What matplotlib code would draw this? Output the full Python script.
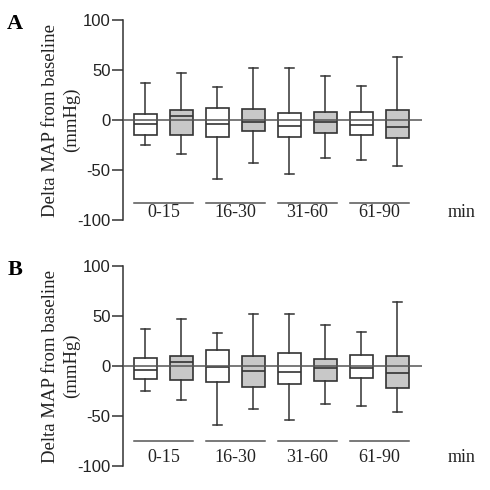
import numpy as np
import matplotlib.pyplot as plt

groups = ["0-15", "16-30", "31-60", "61-90"]
fills = ["white", "#c8c8c8"] * 4

# panel A (five-number summaries, mmHg)
a_whislo = [-25, -34, -59, -43, -54, -38, -40, -46]
a_q1 = [-14.7, -14.7, -17, -11.3, -16.7, -13.3, -15.3, -18.3]
a_med = [-4.3, 4, -4, -1.7, -6.3, -1.7, -5, -7]
a_q3 = [5.7, 10, 12.3, 11.3, 7.3, 8.3, 8.3, 10]
a_whishi = [36.7, 47, 33, 51.7, 51.7, 43.7, 34, 63.3]

# panel B
b_whislo = [-25, -34, -59, -43, -54, -38, -40, -45.7]
b_q1 = [-13, -14.3, -16.3, -21.3, -18.3, -15.3, -12.3, -22.3]
b_med = [-3.7, 4, -1, -5, -6, -2, -2, -7]
b_q3 = [8, 10.3, 16.3, 10.3, 13.3, 7, 11.3, 10.3]
b_whishi = [37, 47, 33, 51.7, 51.7, 41, 34, 64]

serif = ["Liberation Serif", "DejaVu Serif"]
sans = ["Liberation Sans", "DejaVu Sans"]


def draw_panel(ax, whislo, q1, med, q3, whishi, letter, line_y):
    stats = []
    for i in range(len(med)):
        stats.append(dict(whislo=whislo[i], q1=q1[i], med=med[i],
                          q3=q3[i], whishi=whishi[i], fliers=[]))
    pos = np.arange(1, len(med) + 1)
    bp = ax.bxp(stats, positions=pos, widths=0.64, capwidths=0.27,
                showfliers=False, patch_artist=True,
                boxprops=dict(edgecolor="#333333", linewidth=1.2),
                medianprops=dict(color="#333333", linewidth=1.2),
                whiskerprops=dict(color="#333333", linewidth=1.1),
                capprops=dict(color="#333333", linewidth=1.1))
    for patch, c in zip(bp["boxes"], fills):
        patch.set_facecolor(c)

    ax.axhline(0, color="#555555", linewidth=1.1, zorder=5)

    for g, name in enumerate(groups):
        c = 1.5 + 2 * g
        ax.plot([c - 0.81, c + 0.81], [line_y, line_y], color="#555555",
                linewidth=1.1, clip_on=False)
        ax.text(c, -92, name, ha="center", va="center", fontsize=13,
                family=serif, color="#222222")
    ax.text(9.79, -92, "min", ha="center", va="center", fontsize=13,
            family=serif, color="#222222", clip_on=False)

    ax.set_xlim(0.375, 8.68)
    ax.set_ylim(-100, 100)
    ax.set_yticks([-100, -50, 0, 50, 100])
    ax.set_yticklabels(["-100", "-50", "0", "50", "100"], family=sans,
                       fontsize=12, color="#222222")
    ax.tick_params(axis="y", direction="out", length=8, width=1.1,
                   color="#333333", pad=1)
    ax.set_xticks([])
    for s in ["top", "right", "bottom"]:
        ax.spines[s].set_visible(False)
    ax.spines["left"].set_color("#333333")
    ax.spines["left"].set_linewidth(1.1)
    ax.set_ylabel("Delta MAP from baseline\n(mmHg)", family=serif,
                  fontsize=13.5, color="#222222", linespacing=1.25)
    ax.yaxis.set_label_coords(-0.145, 0.5)
    ax.text(-0.361, 0.98, letter, transform=ax.transAxes, ha="center",
            va="center", fontsize=16, fontweight="bold", family=serif)


fig = plt.figure(figsize=(4.9, 4.9), dpi=100)
ax1 = fig.add_axes([0.251, 0.551, 0.610, 0.408])
ax2 = fig.add_axes([0.251, 0.049, 0.610, 0.408])

draw_panel(ax1, a_whislo, a_q1, a_med, a_q3, a_whishi, "A", -83)
draw_panel(ax2, b_whislo, b_q1, b_med, b_q3, b_whishi, "B", -75)

fig.savefig("out.png", dpi=100)
